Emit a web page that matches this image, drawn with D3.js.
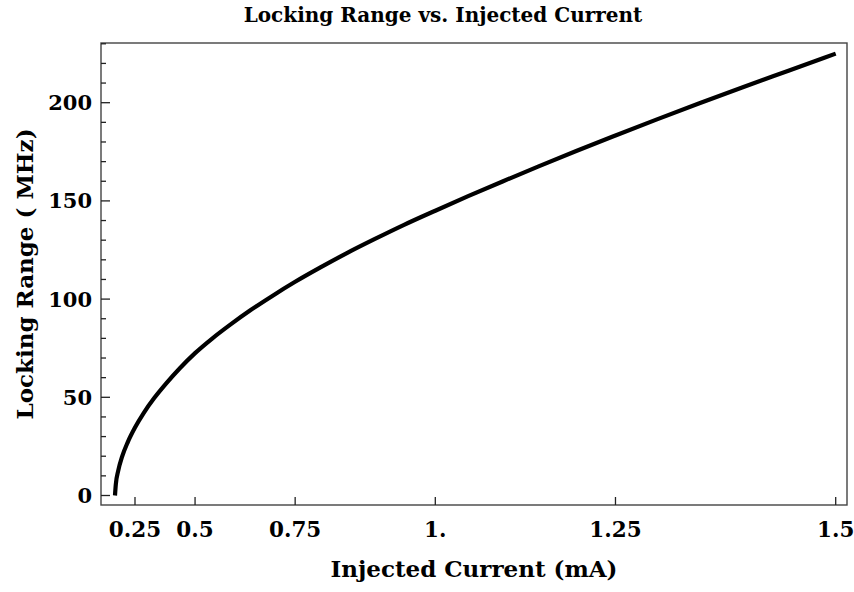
<!DOCTYPE html>
<html>
<head>
<meta charset="utf-8">
<script src="https://cdn.jsdelivr.net/npm/d3@7"></script>
<style>
  html, body { margin: 0; padding: 0; background: #fff; }
  svg text { font-family: "DejaVu Serif", serif; font-weight: bold; fill: #000; }
</style>
</head>
<body>
<svg id="chart" width="854" height="592"></svg>
<script>
// Injected current (mA) and the resulting locking range (MHz)
const currentMA = [0, 0.05, 0.1, 0.15, 0.2, 0.25, 0.3, 0.35, 0.4, 0.45, 0.5, 0.55, 0.6, 0.65, 0.7, 0.75,
                   0.8, 0.85, 0.9, 0.95, 1.0, 1.05, 1.1, 1.15, 1.2, 1.25, 1.3, 1.35, 1.4, 1.45, 1.5];
const lockingMHz = [0, 5.5, 12.5, 19.9, 27.2, 34.6, 42.1, 49.6, 57.1, 64.8, 72.5, 79.8, 87.0, 94.3, 101.5, 108.8,
                    116.0, 123.3, 130.5, 137.8, 145.0, 152.4, 159.9, 167.6, 175.4, 183.3, 191.4, 199.6, 207.9, 216.3, 225.0];

const xTicks = [0.25, 0.5, 0.75, 1, 1.25, 1.5];
const xTickLabels = ["0.25", "0.5", "0.75", "1.", "1.25", "1.5"];
const yMajorTicks = [0, 50, 100, 150, 200];
const yMinorTicks = d3.range(0, 231, 10);

const titleText = "Locking Range vs. Injected Current";
const xTitle = "Injected Current (mA)";
const yTitle = "Locking Range ( MHz)";

const frame = { left: 101, right: 847, top: 43, bottom: 505 };

const svg = d3.select("#chart");

// The horizontal axis is spaced by the square of the current (proportional to injected power)
const x = d3.scalePow().exponent(2).domain([0.25, 1.5]).range([135, 835.7]);
const y = d3.scaleLinear().domain([0, 200]).range([495.5, 102.7]);

// Frame
svg.append("rect")
  .attr("x", frame.left).attr("y", frame.top)
  .attr("width", frame.right - frame.left).attr("height", frame.bottom - frame.top)
  .attr("fill", "none").attr("stroke", "#444").attr("stroke-width", 1.4);

// Left ticks: minor every 10, major every 50
const yAxis = svg.append("g").attr("class", "y-axis");
yAxis.selectAll("line").data(yMinorTicks).join("line")
  .attr("x1", frame.left).attr("x2", d => frame.left + (yMajorTicks.includes(d) ? 9 : 5))
  .attr("y1", d => y(d)).attr("y2", d => y(d))
  .attr("stroke", "#222").attr("stroke-width", 1.3);
yAxis.selectAll("text").data(yMajorTicks).join("text")
  .attr("x", 92).attr("y", d => y(d))
  .attr("text-anchor", "end").attr("dominant-baseline", "central")
  .attr("font-size", 21)
  .text(d => d3.format("d")(d));

// Bottom ticks
const xAxis = svg.append("g").attr("class", "x-axis");
xAxis.selectAll("line").data(xTicks).join("line")
  .attr("x1", d => x(d)).attr("x2", d => x(d))
  .attr("y1", frame.bottom).attr("y2", frame.bottom - 8)
  .attr("stroke", "#222").attr("stroke-width", 1.3);
xAxis.selectAll("text").data(xTicks).join("text")
  .attr("x", d => x(d)).attr("y", 537)
  .attr("text-anchor", "middle")
  .attr("font-size", 21.5)
  .text((d, i) => xTickLabels[i]);

// Curve
const points = currentMA.map((c, i) => [c, lockingMHz[i]]);
svg.append("path")
  .datum(points)
  .attr("fill", "none")
  .attr("stroke", "#000")
  .attr("stroke-width", 4.2)
  .attr("d", d3.line().x(d => x(d[0])).y(d => y(d[1])).curve(d3.curveMonotoneX));

// Titles
svg.append("text")
  .attr("x", 443).attr("y", 22)
  .attr("text-anchor", "middle").attr("font-size", 20)
  .text(titleText);

svg.append("text")
  .attr("x", (frame.left + frame.right) / 2).attr("y", 577)
  .attr("text-anchor", "middle").attr("font-size", 23)
  .text(xTitle);

svg.append("text")
  .attr("transform", `translate(33, ${(frame.top + frame.bottom) / 2}) rotate(-90)`)
  .attr("text-anchor", "middle").attr("font-size", 23)
  .text(yTitle);
</script>
</body>
</html>
